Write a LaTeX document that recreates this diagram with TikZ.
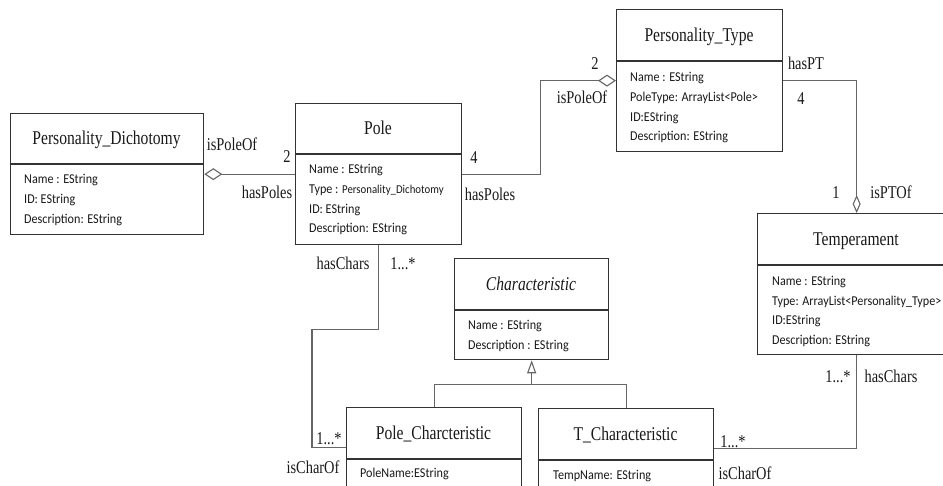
\documentclass[tikz,border=0pt]{standalone}
\usepackage{fontspec}
\usetikzlibrary{arrows.meta,calc}
\newfontfamily\serifc{Liberation Serif}[FakeStretch=0.8]
\newfontfamily\attrf{Carlito}[FakeStretch=0.9]
\definecolor{boxc}{gray}{0.2}
\definecolor{connc}{gray}{0.4}
\definecolor{txtc}{gray}{0.1}
\begin{document}
\begin{tikzpicture}[x=1pt,y=-1pt,
  umlbox/.style={draw=boxc, line width=1.3pt, fill=white, inner sep=0, anchor=north west},
  divider/.style={draw=boxc, line width=1.3pt},
  title/.style={font=\serifc\fontsize{19.5}{20}\selectfont, inner sep=0, anchor=base, text=txtc},
  attr/.style={font=\attrf\fontsize{13.5}{16}\selectfont, inner sep=0, anchor=base west, text=txtc},
  lbl/.style={font=\serifc\fontsize{18}{20}\selectfont, inner sep=0, anchor=base, text=txtc},
  conn/.style={draw=connc, line width=1.2pt},
  aggh/.style={-{Diamond[open, length=18pt, width=12pt, line width=1.1pt]}},
  aggv/.style={-{Diamond[open, length=18pt, width=8pt, line width=1.1pt]}},
  gen/.style={-{Triangle[open, length=13pt, width=9pt, line width=1.1pt]}}]
\useasboundingbox (0,0) rectangle (943,486);
\clip (0,0) rectangle (943,486);

% class boxes
\node[umlbox, minimum width=193pt, minimum height=121pt] (dich) at (10,113) {};
\node[umlbox, minimum width=166pt, minimum height=141pt] (pole) at (295,103) {};
\node[umlbox, minimum width=166pt, minimum height=142pt] (ptype) at (616,9) {};
\node[umlbox, minimum width=198pt, minimum height=141pt] (temp) at (757,213) {};
\node[umlbox, minimum width=154pt, minimum height=101pt] (charc) at (454,258) {};
\node[umlbox, minimum width=175pt, minimum height=80pt] (polec) at (346,407) {};
\node[umlbox, minimum width=175pt, minimum height=80pt] (tchar) at (538,408) {};

% compartment dividers
\draw[divider] ([yshift=-51pt]dich.north west) -- ([yshift=-51pt]dich.north east);
\draw[divider] ([yshift=-51pt]pole.north west) -- ([yshift=-51pt]pole.north east);
\draw[divider] ([yshift=-52pt]ptype.north west) -- ([yshift=-52pt]ptype.north east);
\draw[divider] ([yshift=-52pt]temp.north west) -- ([yshift=-52pt]temp.north east);
\draw[divider] ([yshift=-52pt]charc.north west) -- ([yshift=-52pt]charc.north east);
\draw[divider] ([yshift=-52pt]polec.north west) -- ([yshift=-52pt]polec.north east);
\draw[divider] ([yshift=-52pt]tchar.north west) -- ([yshift=-52pt]tchar.north east);

% class names
\node[title] (dichT) at (106.5,145) {Personality\_Dichotomy};
\node[title] (poleT) at (378,135) {Pole};
\node[title] (ptypeT) at (699,41.5) {Personality\_Type};
\node[title] (tempT) at (856,245.5) {Temperament};
\node[title, font=\serifc\itshape\fontsize{19.5}{20}\selectfont] (charcT) at (531,290.5) {Characteristic};
\node[title] (polecT) at (433.5,439.5) {Pole\_Charcteristic};
\node[title] (tcharT) at (625.5,440.5) {T\_Characteristic};

% attributes
\node[attr] (dichA1) at (24,183.5) {Name : EString};
\node[attr] (dichA2) at (24,203.5) {ID: EString};
\node[attr] (dichA3) at (24,223.5) {Description: EString};

\node[attr] (poleA1) at (309,173.5) {Name : EString};
\node[attr] (poleA2) at (309,193.5) {Type : {\fontsize{12}{14}\selectfont Personality\_Dichotomy}};
\node[attr] (poleA3) at (309,213.5) {ID: EString};
\node[attr] (poleA4) at (309,232.5) {Description: EString};

\node[attr] (ptypeA1) at (630,81.5) {Name : EString};
\node[attr] (ptypeA2) at (630,101.5) {PoleType: ArrayList<Pole>};
\node[attr] (ptypeA3) at (630,121.5) {ID:EString};
\node[attr] (ptypeA4) at (630,140.5) {Description: EString};

\node[attr] (tempA1) at (772,285.5) {Name : EString};
\node[attr] (tempA2) at (772,305.5) {Type: ArrayList<Personality\_Type>};
\node[attr] (tempA3) at (772,324.5) {ID:EString};
\node[attr] (tempA4) at (772,344.5) {Description: EString};

\node[attr] (charcA1) at (468,329.5) {Name : EString};
\node[attr] (charcA2) at (468,349.5) {Description : EString};

\node[attr] (polecA1) at (360,477.5) {PoleName:EString};
\node[attr] (tcharA1) at (553,479.5) {TempName: EString};

% associations
\draw[conn, aggh] (dich.east -| pole.west) -- (dich.east);
\draw[conn, aggh] (pole.east) -- ++(78,0) |- (ptype.west);
\draw[conn, aggv] (ptype.east) -| (temp.north);
\draw[conn] (temp.south) |- (tchar.east);
\coordinate (hc) at ($(polec.west)+(-34,0)$);
\draw[conn] (pole.south) -- ++(0,84) -| (hc) -- (polec.west);

% generalisation
\coordinate (gj) at ($(charc.south)+(0,24)$);
\draw[conn] (polec.north) |- (gj) -| (tchar.north);
\draw[conn, gen] (gj) -- (charc.south);

% role names and multiplicities
\node[lbl] (l1) at (232,151) {isPoleOf};
\node[lbl] (l2) at (287,163) {2};
\node[lbl] (l3) at (267,199) {hasPoles};
\node[lbl] (l4) at (474,164) {4};
\node[lbl] (l5) at (490,201) {hasPoles};
\node[lbl] (l6) at (595,70) {2};
\node[lbl] (l7) at (582,104) {isPoleOf};
\node[lbl] (l8) at (806,70) {hasPT};
\node[lbl] (l9) at (801,105) {4};
\node[lbl] (l10) at (836,199) {1};
\node[lbl] (l11) at (891,199) {isPTOf};
\node[lbl] (l12) at (838,383) {1...*};
\node[lbl] (l13) at (891,383) {hasChars};
\node[lbl] (l14) at (733,447) {1...*};
\node[lbl] (l15) at (745,479) {isCharOf};
\node[lbl] (l16) at (343,270) {hasChars};
\node[lbl] (l17) at (403,270) {1...*};
\node[lbl] (l18) at (329,444) {1...*};
\node[lbl] (l19) at (313,473) {isCharOf};
\end{tikzpicture}
\end{document}
